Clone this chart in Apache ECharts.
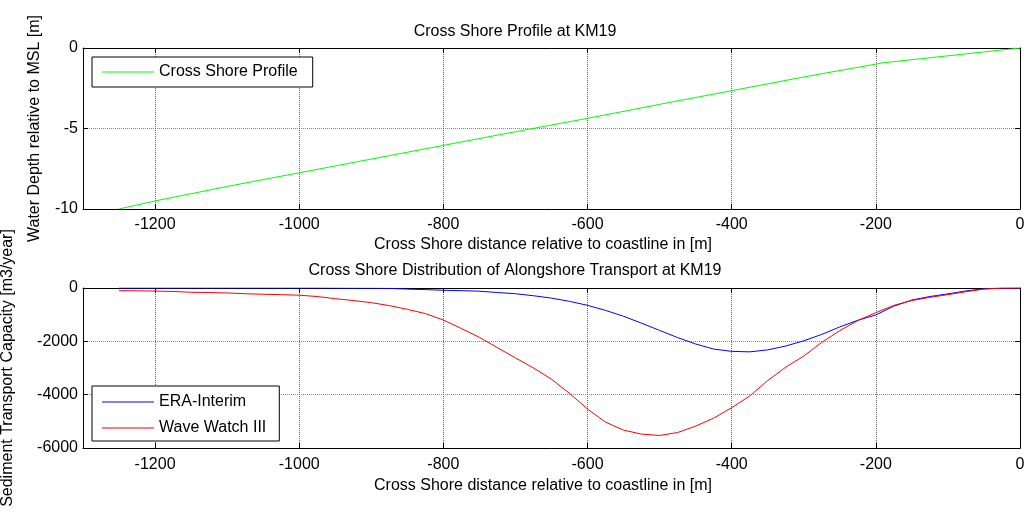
<!DOCTYPE html>
<html>
<head>
<meta charset="utf-8">
<script src="https://cdn.jsdelivr.net/npm/echarts@6/dist/echarts.min.js"></script>
<style>
html,body{margin:0;padding:0;background:#fff;}
#chart{width:1030px;height:512px;}
</style>
</head>
<body>
<div id="chart"></div>
<script>
// ---- data ----
const xTicks = [-1200, -1000, -800, -600, -400, -200, 0];

const profileX = [-1250, -1200, -1100, -1000, -900, -800, -700, -600, -500, -400, -300, -200, -190, 0];
const profileDepth = [-10, -9.5, -8.6, -7.75, -6.9, -6.05, -5.2, -4.37, -3.5, -2.65, -1.8, -1.0, -0.92, 0];

const transportX = [-1250, -1225, -1200, -1175, -1150, -1125, -1100, -1075, -1050, -1025, -1000,
  -975, -950, -925, -900, -875, -850, -825, -800, -775, -750, -725, -700, -675, -650, -625, -600,
  -575, -550, -525, -500, -475, -450, -425, -400, -375, -350, -325, -300, -275, -250, -225, -200,
  -175, -150, -125, -100, -75, -50, -25, 0];

const eraInterim = [0, 0, 0, 0, 0, 0, 0, 0, 0, 0, 0,
  0, -5, -8, -10, -15, -40, -60, -85, -100, -120, -170, -215, -290, -380, -500, -650,
  -840, -1060, -1320, -1590, -1860, -2100, -2290, -2375, -2395, -2320, -2175, -1980, -1740, -1460, -1210, -1010,
  -680, -450, -320, -220, -110, -30, -5, 0];

const waveWatch = [-100, -105, -115, -130, -160, -170, -185, -215, -235, -250, -270,
  -320, -400, -470, -550, -660, -800, -960, -1200, -1520, -1850, -2240, -2620, -3000, -3420, -3950, -4540,
  -5030, -5330, -5480, -5530, -5420, -5180, -4880, -4490, -4050, -3470, -2970, -2550, -2040, -1600, -1220, -925,
  -650, -470, -350, -250, -140, -40, -5, 0];

const pairs = (xs, ys) => xs.map((x, i) => [x, ys[i]]);

const FONT = 'Liberation Sans';
const FS = 16;
const plain = v => String(v);

function xAxisPair(gridIndex) {
  const common = {
    gridIndex: gridIndex, type: 'value', min: -1300, max: 0,
    axisLine: { show: true, onZero: false, lineStyle: { color: '#000', width: 1 } },
    axisTick: { show: true, inside: true, length: 5, customValues: xTicks, lineStyle: { color: '#000' } },
  };
  return [
    Object.assign({}, common, {
      position: 'bottom',
      name: 'Cross Shore distance relative to coastline in [m]',
      nameLocation: 'middle',
      nameGap: gridIndex === 0 ? 28 : 30,
      nameTextStyle: { fontFamily: FONT, fontSize: FS, color: '#000', padding: [0, 17, 0, 0] },
      axisLabel: { show: true, customValues: xTicks, formatter: plain, margin: gridIndex === 0 ? 8 : 9, fontFamily: FONT, fontSize: FS, color: '#000' },
      splitLine: { show: true, lineStyle: { color: '#666', type: [1, 1], width: 1 } }
    }),
    Object.assign({}, common, {
      position: 'top',
      axisLabel: { show: false },
      splitLine: { show: false }
    })
  ];
}

function yAxisPair(gridIndex, min, interval, name, gap) {
  const common = {
    gridIndex: gridIndex, type: 'value', min: min, max: 0, interval: interval,
    axisLine: { show: true, onZero: false, lineStyle: { color: '#000', width: 1 } },
    axisTick: { show: true, inside: true, length: 5, lineStyle: { color: '#000' } },
  };
  return [
    Object.assign({}, common, {
      position: 'left',
      name: name, nameLocation: 'middle', nameGap: gap,
      nameTextStyle: { fontFamily: FONT, fontSize: FS, color: '#000' },
      axisLabel: { show: true, margin: 5, formatter: plain, fontFamily: FONT, fontSize: FS, color: '#000' },
      splitLine: { show: true, lineStyle: { color: '#888', type: [1, 1], width: 1 } }
    }),
    Object.assign({}, common, {
      position: 'right',
      axisLabel: { show: false },
      splitLine: { show: false }
    })
  ];
}

const chart = echarts.init(document.getElementById('chart'), null, { renderer: 'canvas' });

const legendCommon = {
  orient: 'vertical', left: 92, itemWidth: 52, itemHeight: 1, itemGap: 10, icon: 'rect',
  borderColor: '#000', borderWidth: 1, backgroundColor: '#fff', borderRadius: 0,
  textStyle: { fontFamily: FONT, fontSize: FS, color: '#000', lineHeight: 16 }
};

chart.setOption({
  animation: false,
  backgroundColor: '#fff',
  textStyle: { fontFamily: FONT },
  title: [
    { text: 'Cross Shore Profile at KM19', left: 'center', top: 24, padding: [0, 0, 0, 70],
      textStyle: { fontFamily: FONT, fontSize: FS, fontWeight: 'normal', color: '#000' } },
    { text: 'Cross Shore Distribution of Alongshore Transport at KM19', left: 'center', top: 263, padding: [0, 0, 0, 70],
      textStyle: { fontFamily: FONT, fontSize: FS, fontWeight: 'normal', color: '#000' } }
  ],
  grid: [
    { left: 83, right: 10, top: 48, height: 161, outerBoundsMode: 'none', containLabel: false },
    { left: 83, right: 10, top: 288, height: 160, outerBoundsMode: 'none', containLabel: false }
  ],
  xAxis: xAxisPair(0).concat(xAxisPair(1)),
  yAxis: yAxisPair(0, -10, 5, 'Water Depth relative to MSL [m]', 40)
    .concat(yAxisPair(1, -6000, 2000, 'Sediment Transport Capacity [m3/year]', 67)),
  legend: [
    Object.assign({}, legendCommon, { top: 57, padding: [7, 15, 7, 10], data: ['Cross Shore Profile'] }),
    Object.assign({}, legendCommon, { top: 386, padding: [8, 13, 5, 10], data: ['ERA-Interim', 'Wave Watch III'] })
  ],
  series: [
    { name: 'Cross Shore Profile', type: 'line', xAxisIndex: 0, yAxisIndex: 0,
      data: pairs(profileX, profileDepth), symbol: 'none', silent: true,
      lineStyle: { color: '#00ff00', width: 1 }, itemStyle: { color: '#00ff00' } },
    { name: 'ERA-Interim', type: 'line', xAxisIndex: 2, yAxisIndex: 2,
      data: pairs(transportX, eraInterim), symbol: 'none', silent: true,
      lineStyle: { color: '#0000ff', width: 1 }, itemStyle: { color: '#0000ff' } },
    { name: 'Wave Watch III', type: 'line', xAxisIndex: 2, yAxisIndex: 2,
      data: pairs(transportX, waveWatch), symbol: 'none', silent: true,
      lineStyle: { color: '#ff0000', width: 1 }, itemStyle: { color: '#ff0000' } }
  ]
});
</script>
</body>
</html>
